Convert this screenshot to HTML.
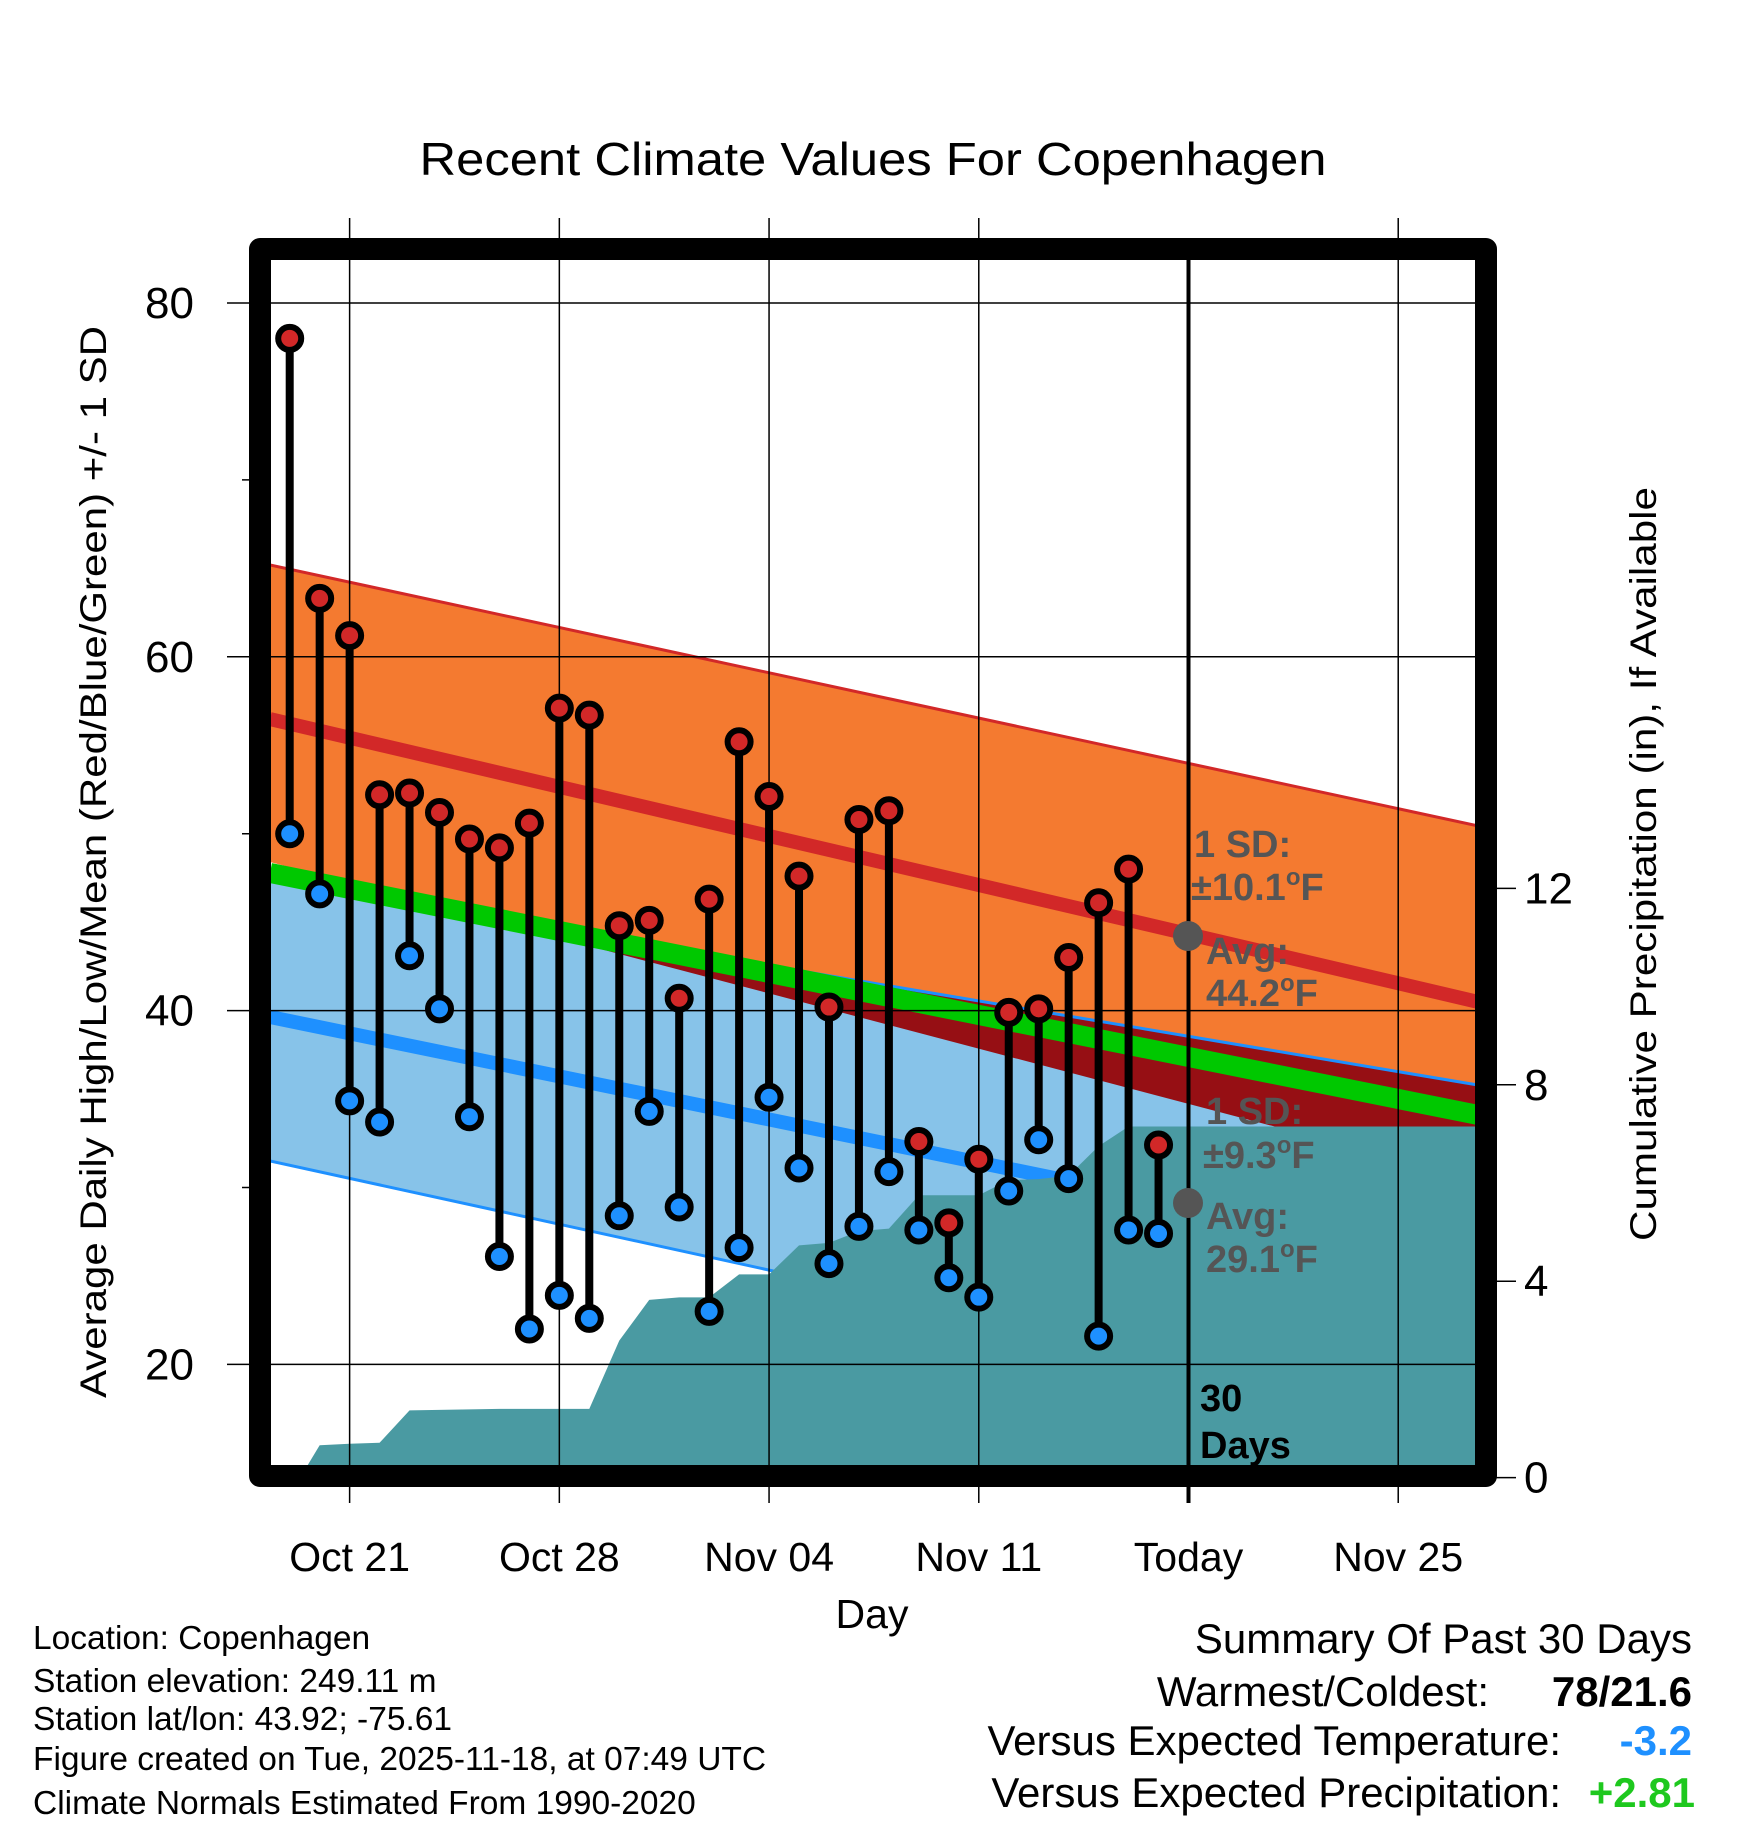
<!DOCTYPE html>
<html><head><meta charset="utf-8"><style>
html,body{margin:0;padding:0;background:#fff}
svg{display:block;font-family:"Liberation Sans",sans-serif}
</style></head><body>
<svg id="chart" width="1748" height="1828" viewBox="0 0 1748 1828" xmlns="http://www.w3.org/2000/svg">
<defs><clipPath id="plotclip"><rect x="270" y="260" width="1208" height="1208"/></clipPath></defs>
<rect x="0" y="0" width="1748" height="1828" fill="#fff"/>
<text x="873" y="175" font-size="46" text-anchor="middle" textLength="907" lengthAdjust="spacingAndGlyphs">Recent Climate Values For Copenhagen</text>
<g id="bands" clip-path="url(#plotclip)"></g>
<g id="grid"></g>
<g id="marks"></g>
<g id="annot" font-weight="bold" font-size="38" fill="#555">
<circle cx="1188" cy="936" r="15" fill="#555"/>
<circle cx="1188" cy="1203" r="15" fill="#555"/>
<text x="1194" y="857">1 SD:</text>
<text x="1191" y="900">±10.1<tspan font-size="24" dy="-15">o</tspan><tspan dy="15">F</tspan></text>
<text x="1206" y="964">Avg:</text>
<text x="1206" y="1006">44.2<tspan font-size="24" dy="-15">o</tspan><tspan dy="15">F</tspan></text>
<text x="1206" y="1124">1 SD:</text>
<text x="1203" y="1168">±9.3<tspan font-size="24" dy="-15">o</tspan><tspan dy="15">F</tspan></text>
<text x="1206" y="1229">Avg:</text>
<text x="1206" y="1272">29.1<tspan font-size="24" dy="-15">o</tspan><tspan dy="15">F</tspan></text>
<text x="1200" y="1411" fill="#000">30</text>
<text x="1200" y="1458" fill="#000">Days</text>
</g>
<rect x="260" y="249" width="1226" height="1227" fill="none" stroke="#000" stroke-width="22" stroke-linejoin="round"/>
<text transform="translate(106,862) rotate(-90)" font-size="37" text-anchor="middle" textLength="1072" lengthAdjust="spacingAndGlyphs">Average Daily High/Low/Mean (Red/Blue/Green) +/- 1 SD</text>
<text transform="translate(1656,864) rotate(-90)" font-size="37" text-anchor="middle" textLength="754" lengthAdjust="spacingAndGlyphs">Cumulative Precipitation (in), If Available</text>
<text x="872" y="1628" font-size="41" text-anchor="middle">Day</text>
<g font-size="33.5">
<text x="33" y="1649">Location: Copenhagen</text>
<text x="33" y="1692">Station elevation: 249.11 m</text>
<text x="33" y="1730">Station lat/lon: 43.92; -75.61</text>
<text x="33" y="1770">Figure created on Tue, 2025-11-18, at 07:49 UTC</text>
<text x="33" y="1814">Climate Normals Estimated From 1990-2020</text>
</g>
<g font-size="42">
<text x="1692" y="1653" text-anchor="end">Summary Of Past 30 Days</text>
<text x="1489" y="1706" text-anchor="end">Warmest/Coldest:</text>
<text x="1692" y="1706" text-anchor="end" font-weight="bold">78/21.6</text>
<text x="1561" y="1755" text-anchor="end">Versus Expected Temperature:</text>
<text x="1692" y="1755" text-anchor="end" font-weight="bold" fill="#1e90ff">-3.2</text>
<text x="1561" y="1807" text-anchor="end">Versus Expected Precipitation:</text>
<text x="1695" y="1807" text-anchor="end" font-weight="bold" fill="#1ec81e">+2.81</text>
</g>
</svg>
<script>
// data
const highs = [78,63.3,61.2,52.2,52.3,51.2,49.7,49.2,50.6,57.1,56.7,44.8,45.1,40.7,46.3,55.2,52.1,47.6,40.2,50.8,51.3,32.6,28.0,31.6,39.9,40.1,43.0,46.1,48.0,32.4];
const lows = [50.0,46.6,34.9,33.7,43.1,40.1,34.0,26.1,22.0,23.9,22.6,28.4,34.3,28.9,23.0,26.6,35.1,31.1,25.7,27.8,30.9,27.6,24.9,23.8,29.8,32.7,30.5,21.6,27.6,27.4];
const precipCum = [0.0,0.66,0.69,0.71,1.37,1.38,1.39,1.40,1.40,1.40,1.40,2.79,3.62,3.67,3.67,4.14,4.14,4.73,4.78,5.02,5.07,5.75,5.75,5.75,6.06,6.08,6.15,6.75,7.15,7.15];
// normals at plot left / right edges [left, right]
const hiUpper = [65.19,50.44];
const hiAvg = [56.48,40.49];
const hiLower = [48.4,30.42];
const loUpper = [47.3,35.79];
const meanAvg = [47.78,34.1];
const loAvg = [39.64,25.62];
const loLower = [31.5,16.57];
const xTickLabels = ["Oct 21","Oct 28","Nov 04","Nov 11","Today","Nov 25"];
const xTickDays = [2,9,16,23,30,37];
const yTicks = [80,60,40,20];
const yMinor = [70,50,30];
const pTicks = [0,4,8,12];

const NS="http://www.w3.org/2000/svg";
const X = d => 289.7 + d*29.96;
const Y = v => 303 + (80-v)*17.69;
const YP = p => 1477.6 - p*49.1;
const DL = (270-289.7)/29.96, DR = (1478-289.7)/29.96;
function mk(tag, parent, attrs){const e=document.createElementNS(NS,tag);for(const k in attrs)e.setAttribute(k,attrs[k]);parent.appendChild(e);return e;}
const bands=document.getElementById('bands'), grid=document.getElementById('grid'), marks=document.getElementById('marks');
const xl=X(DL), xr=X(DR);
function poly(top,bot){return `${xl},${Y(top[0])} ${xr},${Y(top[1])} ${xr},${Y(bot[1])} ${xl},${Y(bot[0])}`;}
let e;
e=mk('polygon',bands,{points:poly(hiUpper,hiLower),fill:'#f47a30'});


e=mk('polygon',bands,{points:poly(loUpper,loLower),fill:'#87c3e9'});


// overlap region
{const a0=loUpper[0]-hiLower[0], a1=loUpper[1]-hiLower[1];
 let t = a0/(a0-a1); t=Math.max(0,Math.min(1,t)); const xi=xl+t*(xr-xl);
 const vu=loUpper[0]+t*(loUpper[1]-loUpper[0]), vl=hiLower[0]+t*(hiLower[1]-hiLower[0]);
 e=mk('polygon',bands,{points:`${xi},${Y(vu)} ${xr},${Y(loUpper[1])} ${xr},${Y(hiLower[1])} ${xi},${Y(vl)}`,fill:'#960f14'});
 
 }
function line(a,w,c,name){const l=mk('line',bands,{x1:xl,y1:Y(a[0]),x2:xr,y2:Y(a[1]),stroke:c,'stroke-width':w});
 
 }
line(hiUpper,3,'#d22828','high-upper-edge');
line(loUpper,3,'#1e90ff','low-upper-edge');
line(loLower,3,'#1e90ff','low-lower-edge');
line(meanAvg,20,'#00c800','mean-avg-line');
line(hiAvg,14,'#d22828','high-avg-line');
line(loAvg,14,'#1e90ff','low-avg-line');
// precip area
{let pts=`${X(0.35)},${YP(0)} `;
 for(let i=1;i<precipCum.length;i++) pts+=`${X(i)},${YP(precipCum[i])} `;
 pts+=`${xr},${YP(precipCum[precipCum.length-1])} ${xr},1480 ${X(0.35)},1480`;
 e=mk('polygon',bands,{points:pts,fill:'#4a9aa2'});
 
 }
// grid
xTickDays.forEach((d,i)=>{
 const today = xTickLabels[i]==='Today';
 const g=mk('line',grid,{x1:X(d),y1:today?260:218,x2:X(d),y2:1503,stroke:'#000','stroke-width':today?4:1.5});
 
 
 const t=mk('text',grid,{x:X(d),y:1571,'font-size':41,'text-anchor':'middle'});
 t.textContent=xTickLabels[i];
 
 
});
yTicks.forEach(v=>{
 const g=mk('line',grid,{x1:227,y1:Y(v),x2:1478,y2:Y(v),stroke:'#000','stroke-width':1.5});
 
 
 const t=mk('text',grid,{x:194,y:Y(v)+15,'font-size':44,'text-anchor':'end'});
 t.textContent=v;
 
 
});
yMinor.forEach(v=>{
 const g=mk('line',grid,{x1:242,y1:Y(v),x2:262,y2:Y(v),stroke:'#000','stroke-width':1.5});
 
 
});
pTicks.forEach(p=>{
 const g=mk('line',grid,{x1:1490,y1:YP(p),x2:1516,y2:YP(p),stroke:'#000','stroke-width':1.5});
 
 
 const t=mk('text',grid,{x:1524,y:YP(p)+15,'font-size':44});
 t.textContent=p;
 
 
});
// stems and dots
highs.forEach((h,i)=>{
 const s=mk('line',marks,{x1:X(i),y1:Y(h),x2:X(i),y2:Y(lows[i]),stroke:'#000','stroke-width':8});
 
 
});
highs.forEach((h,i)=>{
 const c=mk('circle',marks,{cx:X(i),cy:Y(h),r:11.5,fill:'#d22828',stroke:'#000','stroke-width':6});
 
 
 const c2=mk('circle',marks,{cx:X(i),cy:Y(lows[i]),r:11.5,fill:'#1e90ff',stroke:'#000','stroke-width':6});
 
 
});
</script>
</body></html>
